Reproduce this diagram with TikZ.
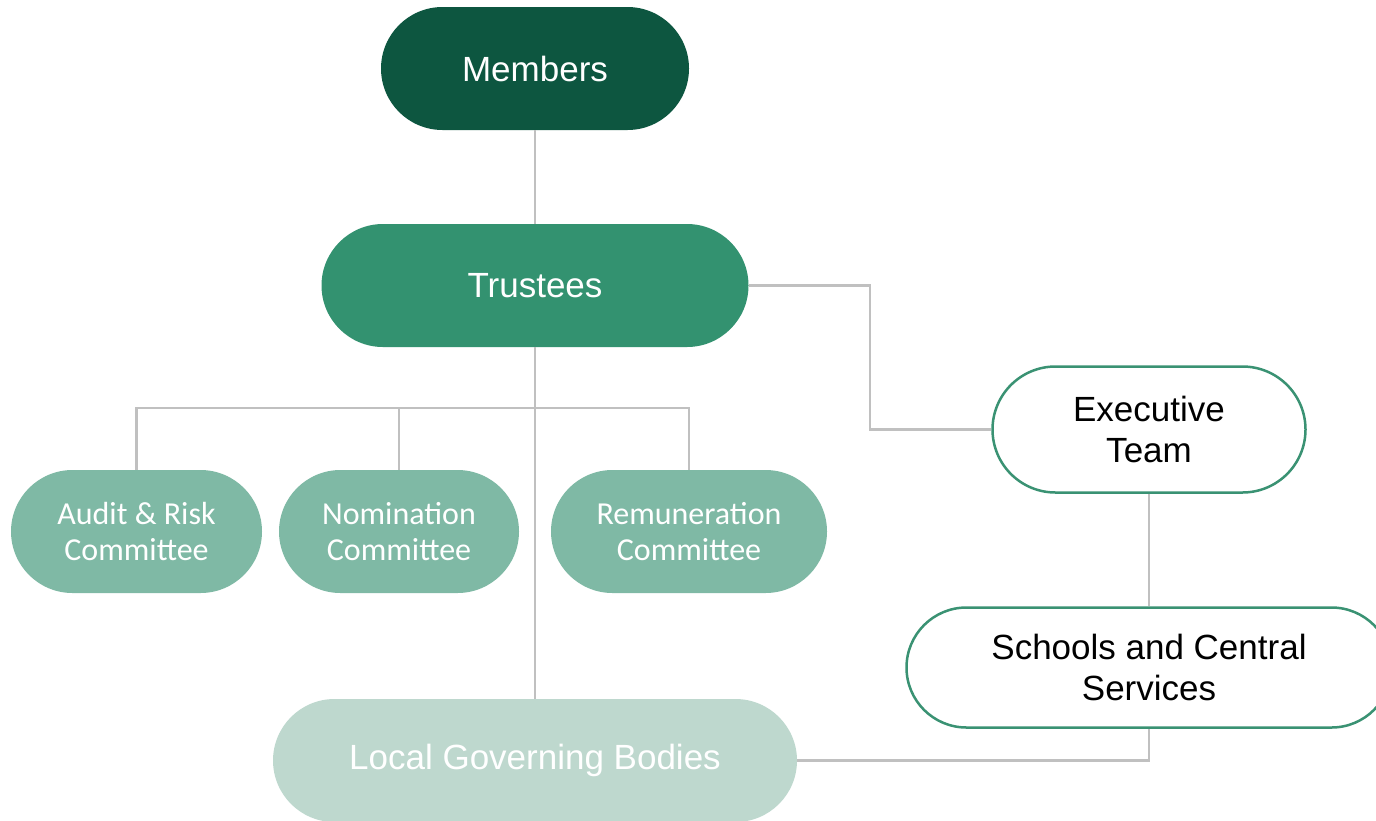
\documentclass[tikz,border=0pt]{standalone}
\usepackage{fontspec}
\setmainfont{Liberation Sans}
\newfontfamily\calfont{Carlito}
\usetikzlibrary{shapes.misc}
\definecolor{cdark}{HTML}{0D5640}
\definecolor{cmid}{HTML}{339270}
\definecolor{ccom}{HTML}{7FB9A5}
\definecolor{clgb}{HTML}{BED8CE}
\definecolor{cline}{HTML}{C0C0C0}
\definecolor{cedge}{HTML}{3A9273}
\tikzset{
  pill/.style={rounded rectangle, inner sep=0pt, minimum height=123pt, align=center,
    font=\fontsize{35}{41}\selectfont},
  filled/.style={pill, fill=#1, text=white},
  outlined/.style={pill, draw=cedge, line width=2.5pt, fill=white, text=black},
  compill/.style={filled=ccom, font=\calfont\fontsize{32}{36}\selectfont},
  conn/.style={draw=cline, line width=2.2pt}
}
\begin{document}
\begin{tikzpicture}[x=1pt,y=-1pt]
\useasboundingbox (0,0) rectangle (1376,820);
\node[filled=cdark, minimum width=308pt] (mem) at (535,68.5) {Members};
\node[filled=cmid, minimum width=427pt] (tr) at (535,285.5) {Trustees};
\node[compill, minimum width=251pt] (ar) at (136.5,531.5) {Audit \& Risk\\Committee};
\node[compill, minimum width=240pt] (nom) at (399,531.5) {Nomination\\Committee};
\node[compill, minimum width=276pt] (rem) at (689,531.5) {Remuneration\\Committee};
\node[outlined, minimum width=313pt, minimum height=126pt] (ex) at (1149,429.5) {Executive\\Team};
\node[outlined, minimum width=485pt, minimum height=120pt] (sc) at (1149,667.5) {Schools and Central\\Services};
\node[filled=clgb, minimum width=524pt] (lgb) at (535,760.5) {Local Governing Bodies};
\coordinate (bus) at (535,408);
\coordinate (j1) at (870,286);
\draw[conn] (mem.south) -- (tr.north);
\draw[conn] (tr.south) -- (lgb.north);
\draw[conn] (ar.north) -- (ar.north |- bus) -- (rem.north |- bus) -- (rem.north);
\draw[conn] (nom.north) -- (nom.north |- bus);
\draw[conn] (tr.east) -- (tr.east -| j1) |- (ex.west);
\draw[conn] (ex.south) -- (sc.north);
\draw[conn] (lgb.east) -| (sc.south);
\end{tikzpicture}
\end{document}
